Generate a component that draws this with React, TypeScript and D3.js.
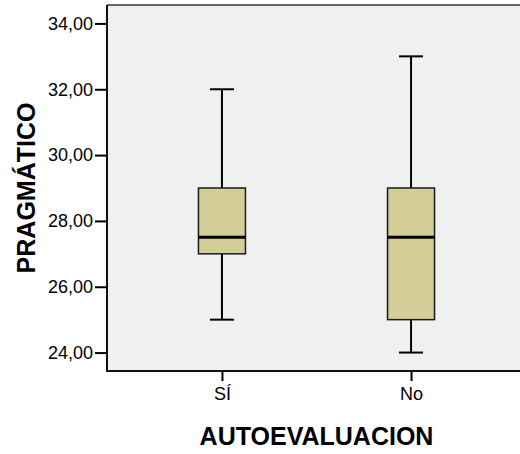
import * as d3 from 'd3';
import { useEffect, useRef } from 'react';

// datos del boxplot
const categories = ['SÍ', 'No'];
const whiskerLow = [25, 24];
const q1 = [27, 25];
const median = [27.5, 27.5];
const q3 = [29, 29];
const whiskerHigh = [32, 33];
const yTicks = [24, 26, 28, 30, 32, 34];

const W = 520;
const H = 454;

const App = () => {
  const chartRef = useRef<SVGSVGElement | null>(null);

  useEffect(() => {
    const svg = d3.select(chartRef.current);
    svg.selectAll('*').remove();

    const margin = { left: 107, top: 5, right: -6, bottom: 83 };
    const x0 = margin.left;
    const x1 = W - margin.right;
    const y0 = margin.top;
    const y1 = H - margin.bottom;

    const scaleX = d3.scalePoint<string>().domain(categories).range([x0, x1]).padding(0.608);
    const scaleY = d3.scaleLinear().domain([23.44, 34.56]).range([y1, y0]);

    // fondo
    svg.append('rect')
      .attr('x', x0).attr('y', y0)
      .attr('width', x1 - x0).attr('height', y1 - y0)
      .style('fill', '#f0f0f0');

    // marco
    svg.append('line').attr('x1', x0).attr('x2', x1).attr('y1', y0).attr('y2', y0)
      .style('stroke', '#333').style('stroke-width', 1.5);

    // eje Y
    const yAxis = d3.axisLeft(scaleY)
      .tickValues(yTicks)
      .tickSize(12)
      .tickPadding(2)
      .tickFormat(d => d3.format('.2f')(d as number).replace('.', ','));
    const gy = svg.append('g').attr('transform', `translate(${x0},0)`).call(yAxis);
    gy.select('.domain').remove();
    gy.selectAll('line').style('stroke', '#000').style('stroke-width', 2);
    gy.selectAll('text')
      .style('font-family', '"Liberation Sans", Arial, sans-serif')
      .style('font-size', '18px')
      .style('fill', '#000');

    // eje X
    const xAxis = d3.axisBottom(scaleX).tickSize(10).tickPadding(6);
    const gx = svg.append('g').attr('transform', `translate(0,${y1})`).call(xAxis);
    gx.select('.domain').remove();
    gx.selectAll('line').style('stroke', '#000').style('stroke-width', 2);
    gx.selectAll('text')
      .style('font-family', '"Liberation Sans", Arial, sans-serif')
      .style('font-size', '18px')
      .style('fill', '#000');

    svg.append('line').attr('x1', x0).attr('x2', x0).attr('y1', y0).attr('y2', y1 + 1)
      .style('stroke', '#111').style('stroke-width', 2);
    svg.append('line').attr('x1', x0 - 1).attr('x2', x1).attr('y1', y1).attr('y2', y1)
      .style('stroke', '#111').style('stroke-width', 2);

    // cajas
    const boxW = 47;
    const capW = 24;
    categories.forEach((c, i) => {
      const cx = scaleX(c) as number;
      const g = svg.append('g');
      // bigotes
      g.append('line').attr('x1', cx).attr('x2', cx)
        .attr('y1', scaleY(whiskerHigh[i])).attr('y2', scaleY(q3[i]))
        .style('stroke', '#000').style('stroke-width', 2);
      g.append('line').attr('x1', cx).attr('x2', cx)
        .attr('y1', scaleY(q1[i])).attr('y2', scaleY(whiskerLow[i]))
        .style('stroke', '#000').style('stroke-width', 2);
      [whiskerHigh[i], whiskerLow[i]].forEach(v => {
        g.append('line').attr('x1', cx - capW / 2).attr('x2', cx + capW / 2)
          .attr('y1', scaleY(v)).attr('y2', scaleY(v))
          .style('stroke', '#000').style('stroke-width', 2);
      });
      g.append('rect')
        .attr('x', cx - boxW / 2).attr('y', scaleY(q3[i]))
        .attr('width', boxW).attr('height', scaleY(q1[i]) - scaleY(q3[i]))
        .style('fill', '#d3ce97').style('stroke', '#1a1a1a').style('stroke-width', 1.5);
      g.append('line').attr('x1', cx - boxW / 2).attr('x2', cx + boxW / 2)
        .attr('y1', scaleY(median[i])).attr('y2', scaleY(median[i]))
        .style('stroke', '#000').style('stroke-width', 3);
    });

    // titulos
    svg.append('text')
      .attr('x', (x0 + x1) / 2).attr('y', 445)
      .attr('text-anchor', 'middle')
      .style('font-family', '"Liberation Sans", Arial, sans-serif')
      .style('font-size', '25px').style('font-weight', 'bold')
      .text('AUTOEVALUACION');
    svg.append('text')
      .attr('transform', `translate(35,${(y0 + y1) / 2}) rotate(-90)`)
      .attr('text-anchor', 'middle')
      .style('font-family', '"Liberation Sans", Arial, sans-serif')
      .style('font-size', '25px').style('font-weight', 'bold')
      .text('PRAGMÁTICO');
  }, []);

  return (
    <svg ref={chartRef} width={W} height={H}
      style={{ position: 'absolute', left: 0, top: 0, background: '#fff' }} />
  );
};

export default App;
